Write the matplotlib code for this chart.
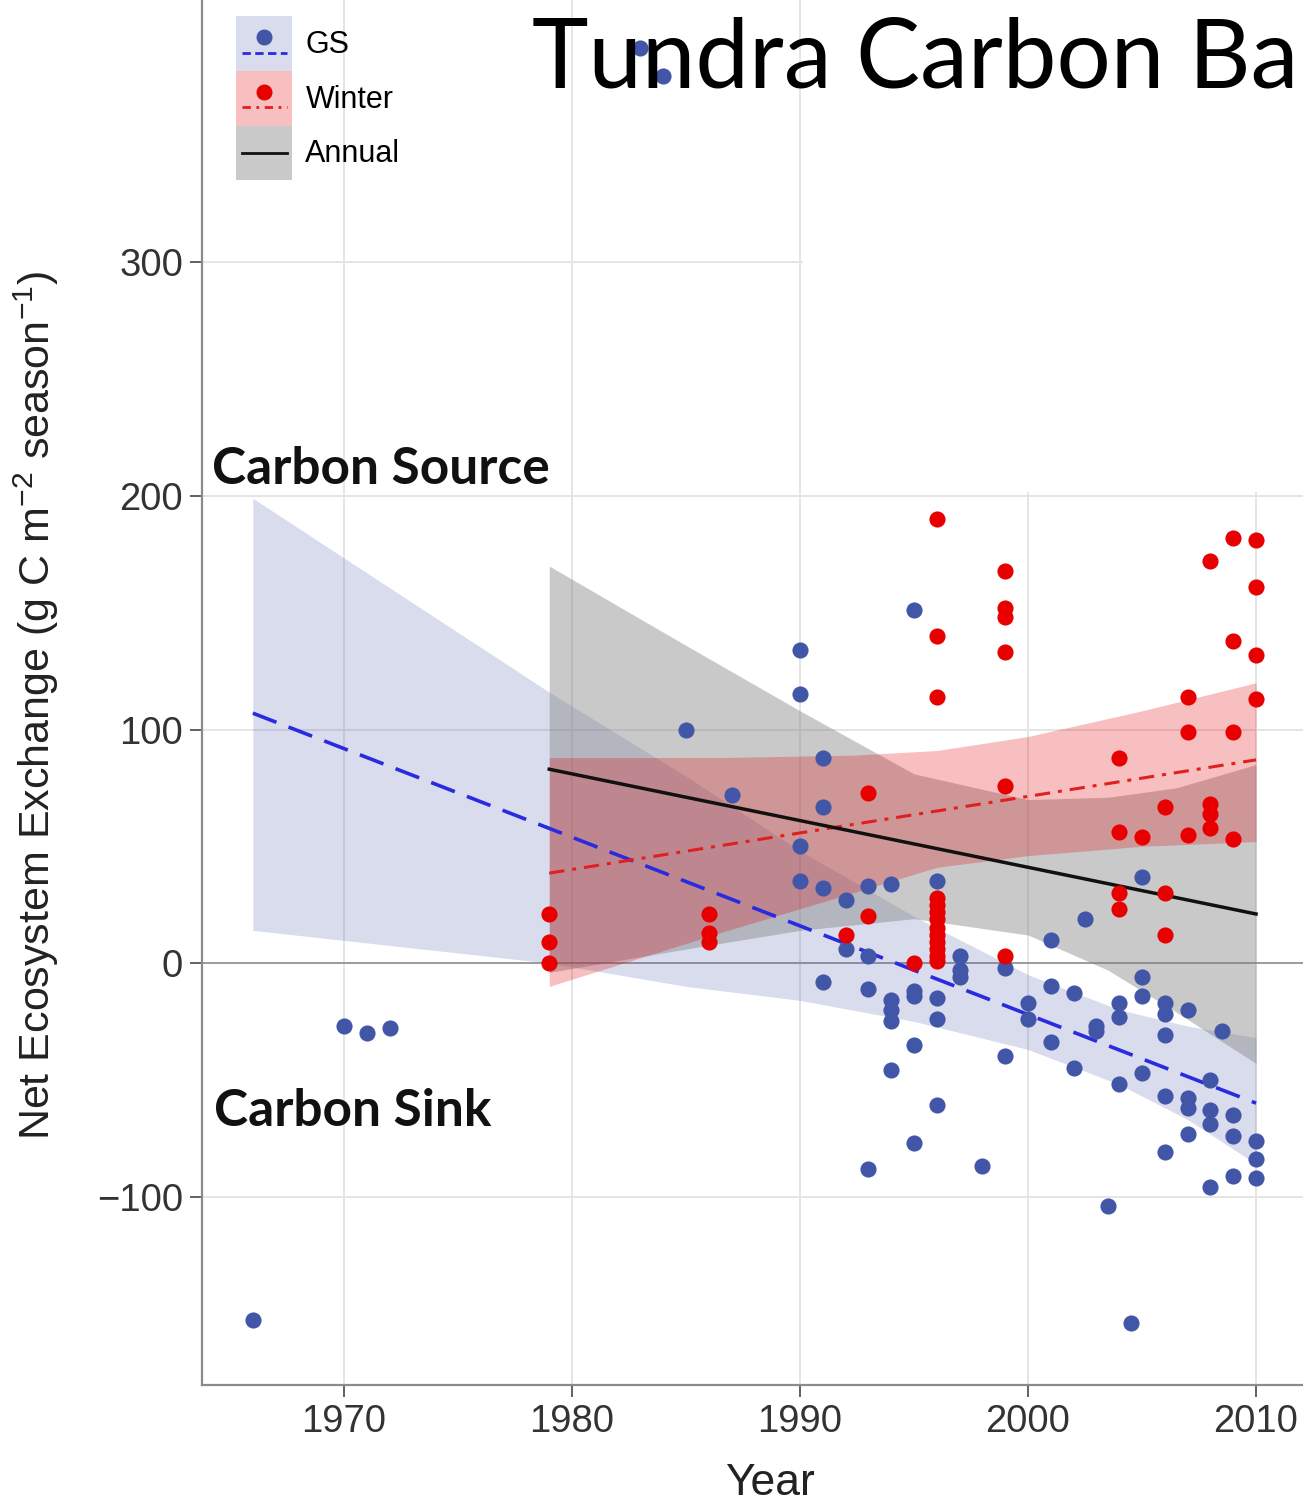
import numpy as np
import matplotlib.pyplot as plt
from matplotlib.lines import Line2D
from matplotlib.patches import Rectangle

plt.rcParams['font.family'] = ['Liberation Sans', 'DejaVu Sans']
plt.rcParams['mathtext.default'] = 'regular'

# growing season (GS) net ecosystem exchange
gs_year = [1966, 1970, 1971, 1972, 1983, 1984, 1985, 1987,
           1990, 1990, 1990, 1990,
           1991, 1991, 1991, 1991,
           1992, 1992,
           1993, 1993, 1993, 1993,
           1994, 1994, 1994, 1994, 1994,
           1995, 1995, 1995, 1995, 1995,
           1996, 1996, 1996, 1996,
           1997, 1997, 1997,
           1998,
           1999, 1999,
           2000, 2000,
           2001, 2001, 2001,
           2002, 2002, 2002.5,
           2003, 2003, 2003.5,
           2004, 2004, 2004, 2004.5,
           2005, 2005, 2005, 2005,
           2006, 2006, 2006, 2006, 2006,
           2007, 2007, 2007, 2007,
           2008, 2008, 2008, 2008, 2008.5,
           2009, 2009, 2009,
           2010, 2010, 2010]
gs_nee = [-153, -27, -30, -28, 392, 380, 100, 72,
          134, 115, 50, 35,
          88, 67, 32, -8,
          27, 6,
          33, 3, -11, -88,
          34, -16, -20, -25, -46,
          151, -12, -14, -35, -77,
          35, -15, -24, -61,
          3, -3, -6,
          -87,
          -2, -40,
          -17, -24,
          10, -10, -34,
          -13, -45, 19,
          -27, -29, -104,
          -17, -23, -52, -154,
          37, -6, -14, -47,
          -17, -22, -31, -57, -81,
          -20, -58, -62, -73,
          -50, -63, -69, -96, -29,
          -65, -74, -91,
          -76, -84, -92]

# winter net ecosystem exchange
win_year = [1979, 1979, 1979,
            1986, 1986, 1986,
            1992,
            1993, 1993,
            1995,
            1996, 1996, 1996, 1996, 1996, 1996, 1996, 1996, 1996, 1996, 1996, 1996, 1996,
            1999, 1999, 1999, 1999, 1999, 1999,
            2004, 2004, 2004, 2004,
            2005,
            2006, 2006, 2006,
            2007, 2007, 2007,
            2008, 2008, 2008, 2008,
            2009, 2009, 2009, 2009,
            2010, 2010, 2010, 2010]
win_nee = [21, 9, 0,
           21, 13, 9,
           12,
           73, 20,
           0,
           190, 140, 114, 28, 25, 22, 19, 15, 12, 9, 6, 3, 1,
           168, 152, 148, 133, 76, 3,
           88, 56, 30, 23,
           54,
           67, 30, 12,
           114, 99, 55,
           172, 68, 64, 58,
           182, 138, 99, 53,
           181, 161, 132, 113]

# fitted trends
gs_fit_year = [1966, 2010]
gs_fit = [107, -60]
win_fit_year = [1979, 2010]
win_fit = [38.5, 87]
ann_fit_year = [1979, 2010]
ann_fit = [83, 21]

# confidence bands
gs_band_year = [1966, 1979, 1985, 1990, 1995, 2000, 2004, 2007, 2010]
gs_band_lo = [14, 0, -10, -16, -25, -37, -52, -67, -86]
gs_band_hi = [199, 116, 80, 48, 20, -5, -20, -27, -32]
win_band_year = [1979, 1986.5, 1992.3, 1996, 2000, 2005, 2010]
win_band_lo = [-10, 13, 30, 41, 46, 50, 52]
win_band_hi = [88, 88, 89, 91, 97, 108, 120]
ann_band_year = [1979, 1985, 1990, 1995, 2000, 2003.5, 2006.5, 2010]
ann_band_lo = [-4, 6, 14, 19, 12, -3, -21, -43]
ann_band_hi = [170, 136, 108, 81, 70, 71, 75, 85]

W, H = 1303, 1503
fig = plt.figure(figsize=(W / 100, H / 100), dpi=100)
ax = fig.add_axes([202 / W, 1 - 1385 / H, 1 - 202 / W, 1385 / H])

gs_pt = '#4256a8'
win_pt = '#e80000'
gs_fill = '#5060b0'
ann_fill = '#808080'
win_fill = '#e00000'
gs_line = '#2a2ae0'
win_line = '#e02020'

ax.fill_between(gs_band_year, gs_band_lo, gs_band_hi, color=gs_fill, alpha=0.22, lw=0, zorder=1)
ax.fill_between(ann_band_year, ann_band_lo, ann_band_hi, color=ann_fill, alpha=0.42, lw=0, zorder=1.1)
ax.fill_between(win_band_year, win_band_lo, win_band_hi, color=win_fill, alpha=0.25, lw=0, zorder=1.2)

ax.axhline(0, color='#9c9c9c', lw=1.4, zorder=0.8)

ax.scatter(gs_year, gs_nee, s=135, color=gs_pt, lw=0, zorder=3)
ax.scatter(win_year, win_nee, s=135, color=win_pt, lw=0, zorder=3.1)

ax.plot(gs_fit_year, gs_fit, color=gs_line, lw=2.6, dashes=(7, 3.6), zorder=2.5)
ax.plot(win_fit_year, win_fit, color=win_line, lw=2.2, dashes=(5, 2.6, 1.3, 2.6), zorder=2.5)
ax.plot(ann_fit_year, ann_fit, color='#111111', lw=2.5, zorder=2.5)

ax.set_xlim(1963.77, 2012.06)
ax.set_ylim(-180.7, 412.4)
ax.set_xticks([1970, 1980, 1990, 2000, 2010])
ax.set_yticks([-100, 0, 100, 200, 300])
ax.grid(True, color='#e3e3e3', lw=1.3)
ax.set_axisbelow(True)
for s in ['top', 'right']:
    ax.spines[s].set_visible(False)
for s in ['left', 'bottom']:
    ax.spines[s].set_color('#8a8a8a')
    ax.spines[s].set_linewidth(1.6)
ax.tick_params(labelsize=27.5, length=8.5, width=1.3, color='#555555', labelcolor='#333333', pad=5)

ax.set_xlabel('Year', fontsize=32, color='#222222')
ax.xaxis.set_label_coords((770 - 202) / 1101, -0.056)
ax.set_ylabel('Net Ecosystem Exchange (g C m$^{-2}$ season$^{-1}$)', fontsize=31, color='#222222')
ax.yaxis.set_label_coords(-0.128, 0.491)

ax.text(1964.2, 205, 'Carbon Source', family='Lato', weight='bold', fontsize=37, color='#111111', va='baseline')
ax.text(1964.3, -70, 'Carbon Sink', family='Lato', weight='bold', fontsize=37, color='#111111', va='baseline')

# white patch behind the cropped title, then the title itself
fig.add_artist(Rectangle((803 / W, 1 - 492 / H), 1, 1, transform=fig.transFigure,
                         facecolor='white', edgecolor='none', zorder=5))
fig.text(532 / W, 1 - 88 / H, 'Tundra Carbon Ba', family='Lato', fontsize=69,
         color='black', va='baseline', ha='left', zorder=6)


# legend key: shaded box, point in the upper part, line below it
class KeyHandler:
    def legend_artist(self, legend, orig_handle, fontsize, handlebox):
        fill, alpha, pt, lc, dashes = orig_handle
        x0, y0 = -handlebox.xdescent, -handlebox.ydescent
        w, h = handlebox.width, handlebox.height
        tr = handlebox.get_transform()
        box = Rectangle((x0, y0), w, h, facecolor=fill, alpha=alpha, edgecolor='none', transform=tr)
        handlebox.add_artist(box)
        ly = y0 + (0.33 if pt else 0.5) * h
        ln = Line2D([x0 + 0.1 * w, x0 + 0.9 * w], [ly, ly], color=lc, lw=2.0, transform=tr)
        if dashes:
            ln.set_dashes(dashes)
        handlebox.add_artist(ln)
        if pt:
            dot = Line2D([x0 + w / 2], [y0 + 0.62 * h], marker='o', ms=10.5, color=pt, ls='none', transform=tr)
            handlebox.add_artist(dot)
        return box


keys = [(gs_fill, 0.22, gs_pt, gs_line, (3, 1.6)),
        (win_fill, 0.25, win_pt, win_line, (3, 2, 1, 2)),
        (ann_fill, 0.42, None, '#111111', None)]
fig.legend(keys, ['GS', 'Winter', 'Annual'], loc='upper left',
           bbox_to_anchor=(236 / W, 1 - 16 / H), bbox_transform=fig.transFigure,
           frameon=False, fontsize=22, handlelength=1.84, handleheight=2.38,
           labelspacing=0, handletextpad=0.43, borderpad=0, borderaxespad=0,
           handler_map={tuple: KeyHandler()})

fig.savefig('out.png', dpi=100)
